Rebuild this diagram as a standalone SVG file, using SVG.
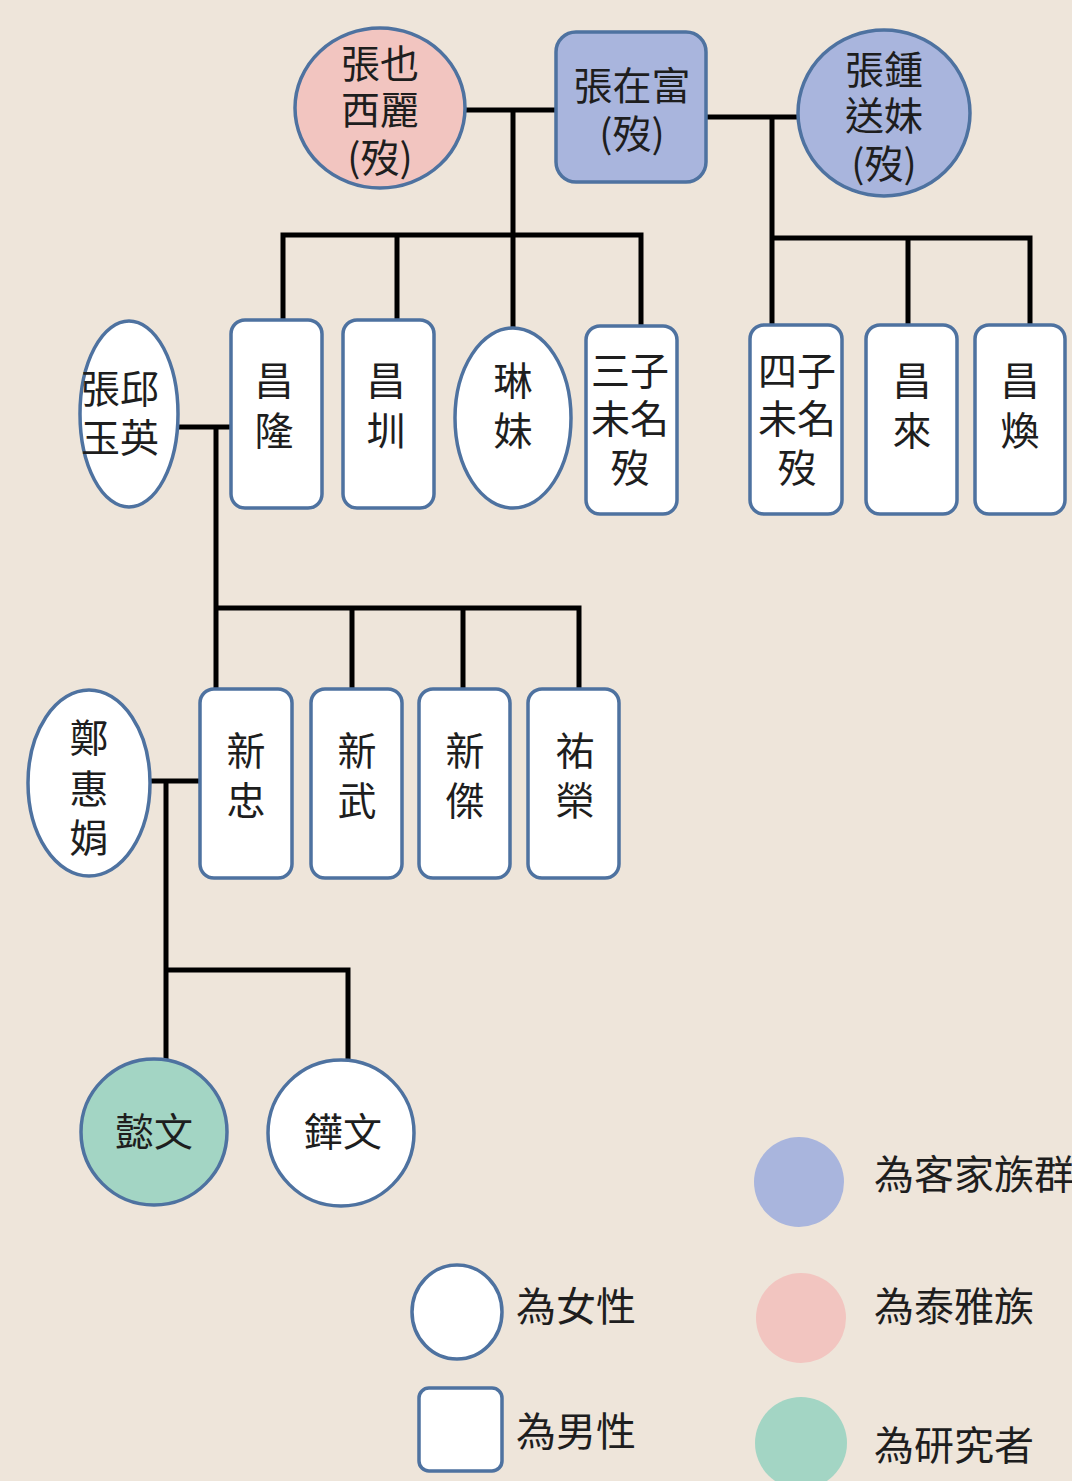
<svg xmlns="http://www.w3.org/2000/svg" width="1072" height="1481" viewBox="0 0 1072 1481">
<style>
.bg{fill:#EEE5DA}
.n{stroke:#4E72A0;stroke-width:3.5}
.w{fill:#FFFFFF}
.b{fill:#A9B5DD}
.p{fill:#F2C5C0}
.g{fill:#A3D5C4}
.t{font-family:"Noto Sans CJK TC","Noto Sans CJK SC",sans-serif;font-size:39px;fill:#1E1E1E;text-anchor:middle}
.lt{font-family:"Noto Sans CJK TC","Noto Sans CJK SC",sans-serif;font-size:40px;fill:#1E1E1E}
.c{stroke:#000;stroke-width:5;fill:none;stroke-linecap:square}
</style>
<rect class="bg" x="0" y="0" width="1072" height="1481"/>
<g id="connectors">
<path class="c" d="M467 110H554M513 110V235M283 235H641M283 235V320M397 235V320M513 235V328M641 235V326"/>
<path class="c" d="M708 117H796M772 117V325M772 238H1030M908 238V325M1030 238V325"/>
<path class="c" d="M180 427H229M216 427V689M216 608H579M352 608V689M463 608V689M579 608V689"/>
<path class="c" d="M152 781H198M166 781V1058M166 970H348M348 970V1058"/>
</g>
<g id="n_zhangyexili"><ellipse class="n p" cx="380" cy="108" rx="85" ry="80"/><text class="t" x="380" y="78">張也<tspan x="380" dy="46">西麗</tspan><tspan x="380" dy="48">(歿)</tspan></text></g>
<g id="n_zhangzaifu"><rect class="n b" x="556" y="32" width="150" height="150" rx="20"/><text class="t" x="632" y="100">張在富<tspan x="632" dy="48">(歿)</tspan></text></g>
<g id="n_zhangzhong"><ellipse class="n b" cx="884" cy="113" rx="86" ry="83"/><text class="t" x="884" y="84">張鍾<tspan x="884" dy="46">送妹</tspan><tspan x="884" dy="48">(歿)</tspan></text></g>
<g id="n_zhangqiu"><ellipse class="n w" cx="129" cy="414" rx="49" ry="93"/><text class="t" x="120" y="403">張邱<tspan x="120" dy="49">玉英</tspan></text></g>
<g id="n_changlong"><rect class="n w" x="231" y="320" width="91" height="188" rx="14"/><text class="t" x="274" y="395">昌<tspan x="274" dy="50">隆</tspan></text></g>
<g id="n_changzhen"><rect class="n w" x="343" y="320" width="91" height="188" rx="14"/><text class="t" x="386" y="395">昌<tspan x="386" dy="50">圳</tspan></text></g>
<g id="n_linmei"><ellipse class="n w" cx="513" cy="418" rx="58" ry="90"/><text class="t" x="513" y="395">琳<tspan x="513" dy="50">妹</tspan></text></g>
<g id="n_sanzi"><rect class="n w" x="586" y="326" width="91" height="188" rx="14"/><text class="t" x="630" y="385">三子<tspan x="630" dy="48">未名</tspan><tspan x="630" dy="49">歿</tspan></text></g>
<g id="n_sizi"><rect class="n w" x="750" y="325" width="92" height="189" rx="14"/><text class="t" x="797" y="385">四子<tspan x="797" dy="48">未名</tspan><tspan x="797" dy="49">歿</tspan></text></g>
<g id="n_changlai"><rect class="n w" x="866" y="325" width="91" height="189" rx="14"/><text class="t" x="912" y="395">昌<tspan x="912" dy="50">來</tspan></text></g>
<g id="n_changhuan"><rect class="n w" x="975" y="325" width="90" height="189" rx="14"/><text class="t" x="1020" y="395">昌<tspan x="1020" dy="50">煥</tspan></text></g>
<g id="n_zheng"><ellipse class="n w" cx="89" cy="783" rx="61" ry="93"/><text class="t" x="89" y="752">鄭<tspan x="89" dy="51">惠</tspan><tspan x="89" dy="49">娟</tspan></text></g>
<g id="n_xinzhong"><rect class="n w" x="200" y="689" width="92" height="189" rx="14"/><text class="t" x="246" y="765">新<tspan x="246" dy="50">忠</tspan></text></g>
<g id="n_xinwu"><rect class="n w" x="311" y="689" width="91" height="189" rx="14"/><text class="t" x="357" y="765">新<tspan x="357" dy="50">武</tspan></text></g>
<g id="n_xinjie"><rect class="n w" x="419" y="689" width="91" height="189" rx="14"/><text class="t" x="465" y="765">新<tspan x="465" dy="50">傑</tspan></text></g>
<g id="n_yourong"><rect class="n w" x="528" y="689" width="91" height="189" rx="14"/><text class="t" x="575" y="765">祐<tspan x="575" dy="50">榮</tspan></text></g>
<g id="n_yiwen"><circle class="n g" cx="154" cy="1132" r="73"/><text class="t" x="154" y="1146">懿文</text></g>
<g id="n_huawen"><circle class="n w" cx="341" cy="1133" r="73"/><text class="t" x="343" y="1146">鏵文</text></g>
<g id="legend">
<ellipse class="n w" cx="457" cy="1312" rx="45" ry="47"/><text class="lt" x="516" y="1321">為女性</text>
<rect class="n w" x="419" y="1388" width="83" height="83" rx="10"/><text class="lt" x="516" y="1446">為男性</text>
<ellipse class="b" cx="799" cy="1182" rx="45" ry="45"/><text class="lt" x="874" y="1189">為客家族群</text>
<ellipse class="p" cx="801" cy="1318" rx="45" ry="45"/><text class="lt" x="874" y="1321">為泰雅族</text>
<ellipse class="g" cx="801" cy="1443" rx="46" ry="46"/><text class="lt" x="874" y="1460">為研究者</text>
</g>
</svg>
